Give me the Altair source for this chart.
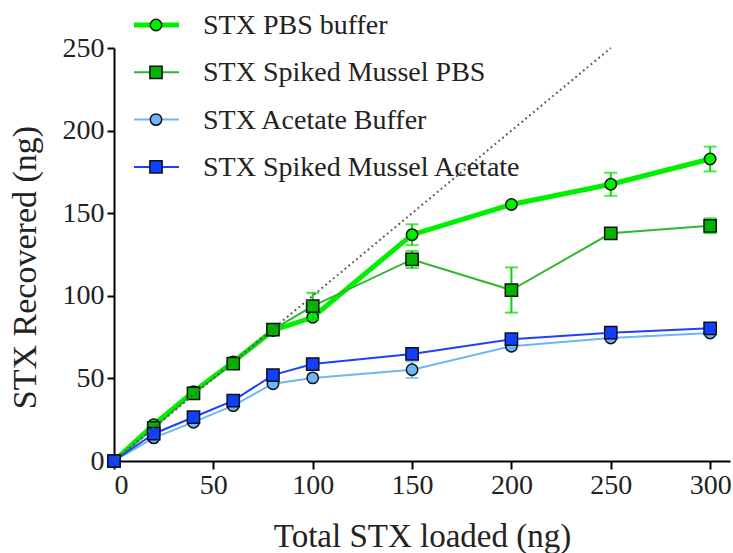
import altair as alt
import pandas as pd

# ---- data ----
x_loaded = [0, 20, 40, 60, 80, 100, 150, 200, 250, 300]

series_names = [
    "STX PBS buffer",
    "STX Spiked Mussel PBS",
    "STX Acetate Buffer",
    "STX Spiked Mussel Acetate",
]

pbs_buffer = [0, 22, 42, 60, 79, 87, 137, 155.3, 167.5, 182.8]
pbs_buffer_err = [0, 0, 0, 0, 0, 0, 6.3, 0, 7, 7.5]

mussel_pbs = [0, 20, 41, 59, 79.5, 93.8, 122, 103.5, 137.8, 142.4]
mussel_pbs_err = [0, 0, 0, 0, 0, 8, 5.2, 13.7, 0, 4.5]

acetate_buffer = [0, 14, 23.5, 33.5, 46.8, 50.3, 55.2, 69.5, 74.5, 77.5]
acetate_buffer_err = [0, 0, 0, 0, 0, 0, 5, 0, 0, 0]

mussel_acetate = [0, 16.5, 26.5, 36.5, 52, 58.7, 64.8, 73.7, 77.7, 80.3]
mussel_acetate_err = [0, 0, 0, 0, 0, 0, 0, 0, 0, 0]

identity_x = [0, 250]
identity_y = [0, 250]

x_ticks = [0, 50, 100, 150, 200, 250, 300]
y_ticks = [0, 50, 100, 150, 200, 250]

values = [pbs_buffer, mussel_pbs, acetate_buffer, mussel_acetate]
errors = [pbs_buffer_err, mussel_pbs_err, acetate_buffer_err, mussel_acetate_err]

rows = []
for name, vals, errs in zip(series_names, values, errors):
    for xv, yv, ev in zip(x_loaded, vals, errs):
        rows.append({"x": xv, "y": yv, "err": ev, "series": name})
df = pd.DataFrame(rows)
ident_df = pd.DataFrame({"x": identity_x, "y": identity_y})
legend_df = pd.DataFrame({"label": series_names, "row": list(range(len(series_names)))})

# ---- styles ----
FONT = "Liberation Serif"
styles = {
    "STX PBS buffer": dict(line="#00F000", fill="#00F000", err="#00E600", width=5, shape="circle", size=130),
    "STX Spiked Mussel PBS": dict(line="#2DB82D", fill="#00B400", err="#00D800", width=2, shape="square", size=150),
    "STX Acetate Buffer": dict(line="#6CB6F5", fill="#6CB6F5", err="#6CB6F5", width=2, shape="circle", size=130),
    "STX Spiked Mussel Acetate": dict(line="#2040FF", fill="#1040FF", err="#2040FF", width=2, shape="square", size=150),
}

xscale = alt.Scale(domain=[0, 310], nice=False, zero=False)
yscale = alt.Scale(domain=[0, 250], nice=False, zero=False)

xaxis = alt.Axis(
    values=x_ticks, title="Total STX loaded (ng)", grid=False,
    domainColor="black", domainWidth=2, tickColor="black", tickWidth=2, tickSize=8,
    labelFont=FONT, labelFontSize=28, labelColor="#222", labelPadding=2,
    titleFont=FONT, titleFontSize=33, titleFontWeight="normal", titleColor="#222",
    titleBaseline="alphabetic", titleY=85,
)
yaxis = alt.Axis(
    values=y_ticks, title="STX Recovered (ng)", grid=False,
    domainColor="black", domainWidth=2, tickColor="black", tickWidth=2, tickSize=7,
    labelFont=FONT, labelFontSize=28, labelColor="#222", labelPadding=3,
    titleFont=FONT, titleFontSize=34, titleFontWeight="normal", titleColor="#222",
    titleAngle=270, titleBaseline="middle", titleX=-89, titleY=219,
)

X = alt.X("x:Q", scale=xscale, axis=xaxis)


def Yf(field):
    return alt.Y(field, scale=yscale, axis=yaxis)


layers = []
for name in series_names:
    st = styles[name]
    base = alt.Chart(df).transform_filter(alt.datum.series == name)
    err = base.transform_filter("datum.err > 0").transform_calculate(
        lo="datum.y - datum.err", hi="datum.y + datum.err"
    )
    layers.append(err.mark_rule(color=st["err"], strokeWidth=2).encode(x=X, y=Yf("lo:Q"), y2="hi:Q"))
    layers.append(err.mark_tick(orient="horizontal", size=13, thickness=2, color=st["err"]).encode(x=X, y=Yf("hi:Q")))
    layers.append(err.mark_tick(orient="horizontal", size=13, thickness=2, color=st["err"]).encode(x=X, y=Yf("lo:Q")))
    layers.append(base.mark_line(color=st["line"], strokeWidth=st["width"]).encode(x=X, y=Yf("y:Q")))
    layers.append(
        base.mark_point(
            shape=st["shape"], size=st["size"], filled=True, fill=st["fill"],
            stroke="#111", strokeWidth=1.5, opacity=1,
        ).encode(x=X, y=Yf("y:Q"))
    )

# identity (dotted) line
layers.append(
    alt.Chart(ident_df).mark_line(color="#555", strokeWidth=2, strokeDash=[1.8, 3.2]).encode(x=X, y=Yf("y:Q"))
)

# manual legend (pixel layout inside the view group)
LEG_Y0 = -23
LEG_DY = 47.3
for i, name in enumerate(series_names):
    st = styles[name]
    ly = LEG_Y0 + i * LEG_DY
    lb = alt.Chart(legend_df).transform_filter(alt.datum.row == i)
    layers.append(
        lb.mark_rule(color=st["line"], strokeWidth=st["width"]).encode(
            x=alt.value(20), x2=alt.value(65), y=alt.value(ly)
        )
    )
    layers.append(
        lb.mark_point(
            shape=st["shape"], size=st["size"], filled=True, fill=st["fill"],
            stroke="#111", strokeWidth=1.5, opacity=1,
        ).encode(x=alt.value(42), y=alt.value(ly))
    )
    layers.append(
        lb.mark_text(align="left", baseline="middle", font=FONT, fontSize=28, color="#222", dy=1).encode(
            x=alt.value(89), y=alt.value(ly), text="label:N"
        )
    )

chart = (
    alt.layer(*layers)
    .properties(
        width=616, height=413,
        padding={"left": 114, "top": 48, "right": 3, "bottom": 92},
        autosize=alt.AutoSizeParams(type="none"),
        background="white",
    )
    .configure_view(stroke=None)
)

chart.save("out.html", embed_options={"renderer": "svg", "actions": False})
